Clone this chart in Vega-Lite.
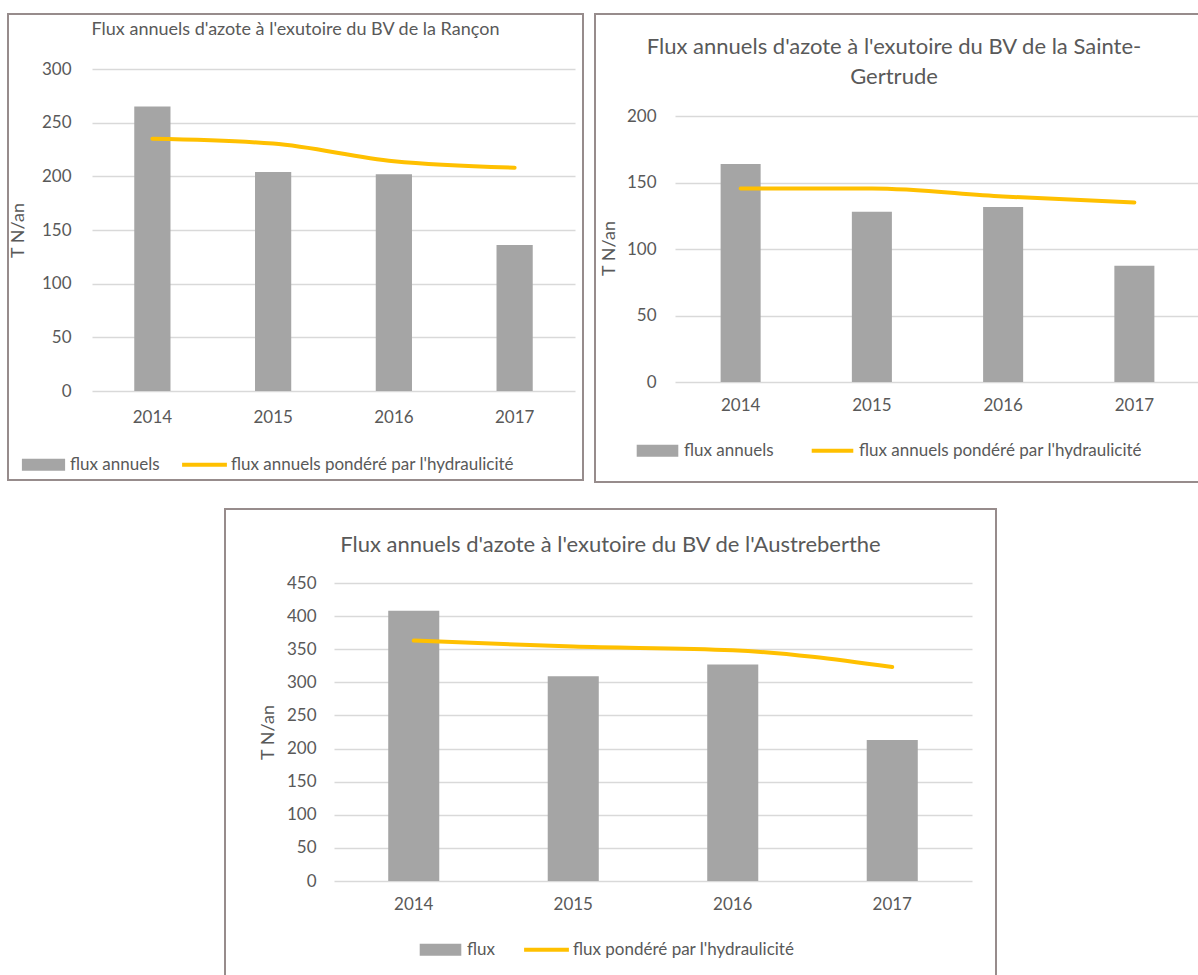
{
  "$schema": "https://vega.github.io/schema/vega-lite/v6.json",
  "padding": {"left": 7, "top": 13, "right": 0, "bottom": 0},
  "background": "white",
  "config": {
    "font": "Lato",
    "view": {"stroke": "#978c8c", "strokeWidth": 2},
    "axis": {"labelFont": "Lato", "labelFontSize": 17, "labelColor": "#595959", "titleFont": "Lato", "titleFontSize": 18, "titleFontWeight": "normal", "titleColor": "#595959", "gridColor": "#d9d9d9", "gridWidth": 1.5, "domain": false, "ticks": false, "tickSize": 0},
    "legend": {"labelFont": "Lato", "labelFontSize": 17, "labelColor": "#595959", "labelLimit": 800},
    "title": {"font": "Lato", "fontWeight": "normal", "color": "#595959", "baseline": "middle", "anchor": "middle", "frame": "group"}
  },
  "spacing": 25,
  "center": true,
  "resolve": {"scale": {"x": "independent", "y": "independent", "color": "independent"}, "legend": {"color": "independent"}, "axis": {"x": "independent", "y": "independent"}},
  "vconcat": [
    {
      "spacing": 10,
      "resolve": {"scale": {"x": "independent", "y": "independent", "color": "independent"}, "legend": {"color": "independent"}, "axis": {"x": "independent", "y": "independent"}},
      "hconcat": [
        {
          "width": 575,
          "height": 466,
          "title": {"text": "Flux annuels d'azote à l'exutoire du BV de la Rançon", "fontSize": 18, "offset": -25},
          "data": {"values": [
            {"annee": "2014", "serie": "flux annuels", "valeur": 265},
            {"annee": "2015", "serie": "flux annuels", "valeur": 204},
            {"annee": "2016", "serie": "flux annuels", "valeur": 202},
            {"annee": "2017", "serie": "flux annuels", "valeur": 136},
            {"annee": "2014", "serie": "flux annuels pondéré par l'hydraulicité", "valeur": 235},
            {"annee": "2015", "serie": "flux annuels pondéré par l'hydraulicité", "valeur": 230.5},
            {"annee": "2016", "serie": "flux annuels pondéré par l'hydraulicité", "valeur": 214},
            {"annee": "2017", "serie": "flux annuels pondéré par l'hydraulicité", "valeur": 208}
          ]},
          "encoding": {
            "x": {"field": "annee", "type": "ordinal", "scale": {"range": [84, 567], "paddingInner": 0.7, "paddingOuter": 0.35}, "axis": {"title": null, "labelAngle": 0, "offset": -89, "labelPadding": 26, "labelBaseline": "middle", "grid": false}},
            "y": {"field": "valeur", "type": "quantitative", "scale": {"domain": [0, 300], "range": [377, 55], "nice": false}, "axis": {"values": [0, 50, 100, 150, 200, 250, 300], "title": "T N/an", "offset": -63, "labelPadding": 0, "titleX": -53, "titleY": 216, "titleAngle": -90, "titleAlign": "center", "titleBaseline": "middle"}},
            "color": {"field": "serie", "type": "nominal", "scale": {"domain": ["flux annuels", "flux annuels pondéré par l'hydraulicité"], "range": ["#a5a5a5", "#ffc000"]},
              "legend": {"orient": "none", "legendX": 27, "legendY": 442, "direction": "horizontal", "title": null, "symbolSize": 256, "labelOffset": 18, "columnPadding": 22,
                "encode": {"symbols": {"update": {
                  "shape": {"signal": "datum.value === 'flux annuels' ? 'M-2.7,-0.75H2.7V0.75H-2.7Z' : 'M-2.8,-0.25H2.8V0.25H-2.8Z'"},
                  "fill": {"signal": "datum.value === 'flux annuels' ? '#a5a5a5' : '#ffc000'"},
                  "fillOpacity": {"value": 1}, "stroke": {"value": "transparent"}, "strokeWidth": {"value": 0}, "opacity": {"value": 1}}}}}}
          },
          "layer": [
            {"transform": [{"filter": {"field": "serie", "equal": "flux annuels"}}], "mark": {"type": "bar"}},
            {"transform": [{"filter": {"field": "serie", "equal": "flux annuels pondéré par l'hydraulicité"}}], "mark": {"type": "line", "strokeWidth": 4, "interpolate": "monotone", "strokeCap": "round"}}
          ]
        },
        {
          "width": 618,
          "height": 468,
          "title": {"text": ["Flux annuels d'azote à l'exutoire du BV de la Sainte-", "Gertrude"], "fontSize": 22, "lineHeight": 30, "offset": -75, "dx": -10},
          "data": {"values": [
            {"annee": "2014", "serie": "flux annuels", "valeur": 164},
            {"annee": "2015", "serie": "flux annuels", "valeur": 128},
            {"annee": "2016", "serie": "flux annuels", "valeur": 131.5},
            {"annee": "2017", "serie": "flux annuels", "valeur": 87.5},
            {"annee": "2014", "serie": "flux annuels pondéré par l'hydraulicité", "valeur": 145.5},
            {"annee": "2015", "serie": "flux annuels pondéré par l'hydraulicité", "valeur": 145.5},
            {"annee": "2016", "serie": "flux annuels pondéré par l'hydraulicité", "valeur": 139.5},
            {"annee": "2017", "serie": "flux annuels pondéré par l'hydraulicité", "valeur": 135}
          ]},
          "encoding": {
            "x": {"field": "annee", "type": "ordinal", "scale": {"range": [80, 605], "paddingInner": 0.695, "paddingOuter": 0.3475}, "axis": {"title": null, "labelAngle": 0, "offset": -100, "labelPadding": 23, "labelBaseline": "middle", "grid": false}},
            "y": {"field": "valeur", "type": "quantitative", "scale": {"domain": [0, 200], "range": [368, 102], "nice": false}, "axis": {"values": [0, 50, 100, 150, 200], "title": "T N/an", "offset": -61, "labelPadding": 0, "titleX": -47, "titleY": 234, "titleAngle": -90, "titleAlign": "center", "titleBaseline": "middle"}},
            "color": {"field": "serie", "type": "nominal", "scale": {"domain": ["flux annuels", "flux annuels pondéré par l'hydraulicité"], "range": ["#a5a5a5", "#ffc000"]},
              "legend": {"orient": "none", "legendX": 54, "legendY": 428, "direction": "horizontal", "title": null, "symbolSize": 256, "labelOffset": 18, "columnPadding": 37,
                "encode": {"symbols": {"update": {
                  "shape": {"signal": "datum.value === 'flux annuels' ? 'M-2.6,-0.75H2.6V0.75H-2.6Z' : 'M-2.6,-0.25H2.6V0.25H-2.6Z'"},
                  "fill": {"signal": "datum.value === 'flux annuels' ? '#a5a5a5' : '#ffc000'"},
                  "fillOpacity": {"value": 1}, "stroke": {"value": "transparent"}, "strokeWidth": {"value": 0}, "opacity": {"value": 1}}}}}}
          },
          "layer": [
            {"transform": [{"filter": {"field": "serie", "equal": "flux annuels"}}], "mark": {"type": "bar"}},
            {"transform": [{"filter": {"field": "serie", "equal": "flux annuels pondéré par l'hydraulicité"}}], "mark": {"type": "line", "strokeWidth": 4, "interpolate": "monotone", "strokeCap": "round"}}
          ]
        }
      ]
    },
    {
      "width": 771,
      "height": 470,
      "title": {"text": "Flux annuels d'azote à l'exutoire du BV de l'Austreberthe", "fontSize": 22, "offset": -48},
      "data": {"values": [
        {"annee": "2014", "serie": "flux", "valeur": 408},
        {"annee": "2015", "serie": "flux", "valeur": 309},
        {"annee": "2016", "serie": "flux", "valeur": 327},
        {"annee": "2017", "serie": "flux", "valeur": 213},
        {"annee": "2014", "serie": "flux pondéré par l'hydraulicité", "valeur": 363},
        {"annee": "2015", "serie": "flux pondéré par l'hydraulicité", "valeur": 354},
        {"annee": "2016", "serie": "flux pondéré par l'hydraulicité", "valeur": 348.5},
        {"annee": "2017", "serie": "flux pondéré par l'hydraulicité", "valeur": 323}
      ]},
      "encoding": {
        "x": {"field": "annee", "type": "ordinal", "scale": {"range": [109, 747], "paddingInner": 0.68, "paddingOuter": 0.34}, "axis": {"title": null, "labelAngle": 0, "offset": -98, "labelPadding": 23, "labelBaseline": "middle", "grid": false}},
        "y": {"field": "valeur", "type": "quantitative", "scale": {"domain": [0, 450], "range": [372, 74], "nice": false}, "axis": {"values": [0, 50, 100, 150, 200, 250, 300, 350, 400, 450], "title": "T N/an", "offset": -91, "labelPadding": 0, "titleX": -48, "titleY": 223, "titleAngle": -90, "titleAlign": "center", "titleBaseline": "middle"}},
        "color": {"field": "serie", "type": "nominal", "scale": {"domain": ["flux", "flux pondéré par l'hydraulicité"], "range": ["#a5a5a5", "#ffc000"]},
          "legend": {"orient": "none", "legendX": 207, "legendY": 432, "direction": "horizontal", "title": null, "symbolSize": 256, "labelOffset": 18, "columnPadding": 29,
            "encode": {"symbols": {"update": {
              "shape": {"signal": "datum.value === 'flux' ? 'M-2.6,-0.75H2.6V0.75H-2.6Z' : 'M-2.8,-0.25H2.8V0.25H-2.8Z'"},
              "fill": {"signal": "datum.value === 'flux' ? '#a5a5a5' : '#ffc000'"},
              "fillOpacity": {"value": 1}, "stroke": {"value": "transparent"}, "strokeWidth": {"value": 0}, "opacity": {"value": 1}}}}}}
      },
      "layer": [
        {"transform": [{"filter": {"field": "serie", "equal": "flux"}}], "mark": {"type": "bar"}},
        {"transform": [{"filter": {"field": "serie", "equal": "flux pondéré par l'hydraulicité"}}], "mark": {"type": "line", "strokeWidth": 4, "interpolate": "monotone", "strokeCap": "round"}}
      ]
    }
  ]
}
